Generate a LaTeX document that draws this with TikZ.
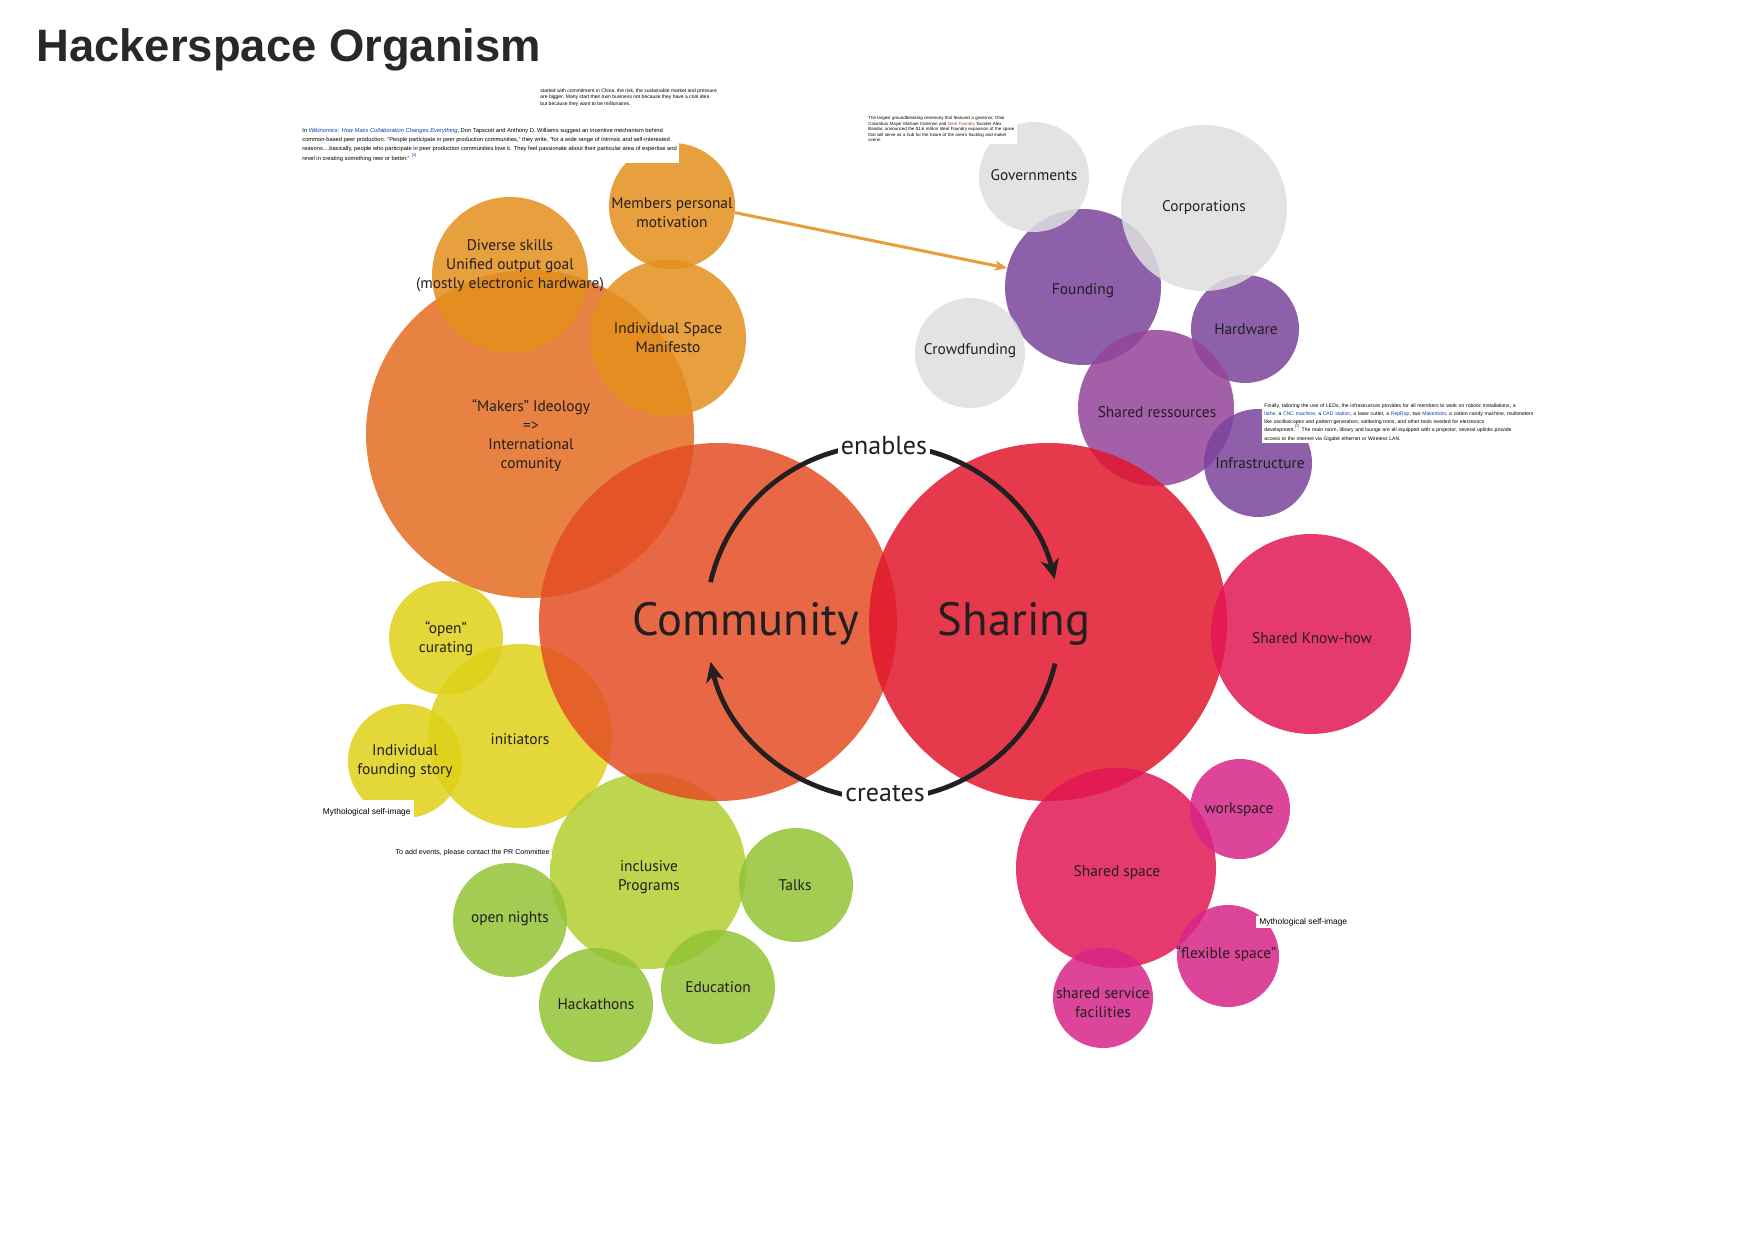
\documentclass[tikz,border=0pt]{standalone}
\usepackage{fontspec}
\setmainfont{PT Sans}
\newfontfamily\arialfont{Liberation Sans}
\usepackage{tikz}
\usetikzlibrary{arrows.meta}

\definecolor{ink}{RGB}{35,31,32}
\definecolor{titlec}{RGB}{40,40,40}
\definecolor{commc}{RGB}{229,77,37}
\definecolor{sharec}{RGB}{226,23,45}
\definecolor{makersc}{RGB}{228,109,33}
\definecolor{orangec}{RGB}{228,143,28}
\definecolor{motivc}{RGB}{232,158,60}
\definecolor{yellowc}{RGB}{224,209,23}
\definecolor{limec}{RGB}{179,207,47}
\definecolor{greenc}{RGB}{147,196,53}
\definecolor{grayc}{RGB}{223,223,224}
\definecolor{purplec}{RGB}{122,69,155}
\definecolor{mauvec}{RGB}{149,68,155}
\definecolor{pinkc}{RGB}{226,23,84}
\definecolor{magentac}{RGB}{216,37,137}
\definecolor{linkc}{RGB}{6,69,173}
\definecolor{linkred}{RGB}{204,51,51}

\begin{document}
\begin{tikzpicture}[x=0.5pt,y=-0.5pt,
    disc/.style={circle, inner sep=0pt, minimum size=#1pt, fill opacity=.85},
    lbl/.style={align=center, text=ink, font=\fontsize{7.7}{9.5}\selectfont},
    big/.style={text=ink, font=\fontsize{23.3}{27}\selectfont},
    verb/.style={fill=white, inner sep=1.5pt, text=ink, font=\fontsize{13}{15}\selectfont},
    note/.style={fill=white, inner sep=1pt, align=left, text=black},
    cyclearrow/.style={line width=2.4pt, ink, -{Stealth[length=10pt,width=9pt,inset=3pt]}},
    motivarrow/.style={line width=1.5pt, motivc, -{Stealth[length=6pt,width=5pt,inset=1.5pt]}}]
    \fill[white] (0,0) rectangle (1754,1240);
    \useasboundingbox (0,0) rectangle (1754,1240);
    \def\rbig{179}
    \def\rsmall{57}
    \node[anchor=base west, inner sep=0pt, text=titlec, font=\arialfont\bfseries\fontsize{22.7}{27}\selectfont] (title) at (36,62) {Hackerspace Organism};
    % community side
    \node[disc=164, fill=makersc] (makers) at (530,434) {};
    \node[disc=78, fill=orangec] (diverse) at (510,275) {};
    \node[disc=78, fill=orangec] (manifesto) at (668,338) {};
    \node[disc=63, fill=orangec] (members) at (672,206) {};
    \node[disc=\rsmall, fill=yellowc] (curating) at (446,638) {};
    \node[disc=92, fill=yellowc] (initiators) at (520,736) {};
    \node[disc=\rsmall, fill=yellowc] (story) at (405,761) {};
    \node[disc=98, fill=limec] (programs) at (648,871) {};
    \node[disc=\rsmall, fill=greenc] (talks) at (796,885) {};
    \node[disc=\rsmall, fill=greenc] (nights) at (510,920) {};
    \node[disc=\rsmall, fill=greenc] (hackathons) at (596,1005) {};
    \node[disc=\rsmall, fill=greenc] (education) at (718,987) {};
    % sharing side
    \node[disc=78, fill=purplec] (founding) at (1083,287) {};
    \node[disc=54, fill=purplec] (hardware) at (1245,329) {};
    \node[disc=78, fill=mauvec] (resources) at (1156,408) {};
    \node[disc=54, fill=purplec] (infra) at (1258,463) {};
    \node[disc=55, fill=grayc] (governments) at (1034,177) {};
    \node[disc=83, fill=grayc] (corporations) at (1204,208) {};
    \node[disc=55, fill=grayc] (crowdfunding) at (970,353) {};
    \node[disc=\rbig, fill=commc] (community) at (718,622) {};
    \node[disc=\rbig, fill=sharec] (sharing) at (1048,622) {};
    \node[disc=100, fill=pinkc] (knowhow) at (1311,634) {};
    \node[disc=100, fill=pinkc] (sharedspace) at (1116,868) {};
    \node[disc=50, fill=magentac] (workspace) at (1240,809) {};
    \node[disc=51, fill=magentac] (flexible) at (1228,956) {};
    \node[disc=50, fill=magentac] (service) at (1103,998) {};
    % pasted notes
    \node[note, anchor=north west, font=\arialfont\fontsize{2.5}{3.4}\selectfont] (noteA) at (538,86)
      {started with commitment in China, the risk, the sustainable market and pressure\\
       are bigger. Many start their own business not because they have a cool idea\\
       but because they want to be millionaires.};
    \node[note, anchor=north west, font=\arialfont\fontsize{2.88}{4.6}\selectfont] (noteB) at (300,126)
      {In \textcolor{linkc}{\itshape Wikinomics: How Mass Collaboration Changes Everything}, Don Tapscott and Anthony D. Williams suggest an incentive mechanism behind\\
       common-based peer production. “People participate in peer production communities,” they write, “for a wide range of intrinsic and self-interested\\
       reasons....basically, people who participate in peer production communities love it. They feel passionate about their particular area of expertise and\\
       revel in creating something new or better.” \textcolor{linkc}{\textsuperscript{[4]}}};
    \node[note, anchor=north west, text width=73.5pt, font=\arialfont\fontsize{2.2}{2.75}\selectfont] (noteC) at (866,114)
      {The largest groundbreaking ceremony that featured a governor, Ohio\\
       Columbus Mayor Michael Coleman and \textcolor{linkred}{Ideal Foundry} founder Alex\\
       Bandar, announced the \$1.6 million Ideal Foundry expansion of the space\\
       that will serve as a hub for the future of the area's hacking and maker\\
       scene.};
    \node[note, anchor=north west, text width=137pt, font=\arialfont\fontsize{2.55}{4.15}\selectfont] (noteD) at (1262,401)
      {Finally, tailoring the use of LEDs, the infrastructure provides for all members to work on robotic installations, a\\
       \textcolor{linkc}{lathe}, a \textcolor{linkc}{CNC machine}, a \textcolor{linkc}{CAD station}, a laser cutter, a \textcolor{linkc}{RepRap}, two \textcolor{linkc}{Makerbots}, a cotton candy machine, multimeters\\
       like oscilloscopes and pattern generators, soldering irons, and other tools needed for electronics\\
       development.\textsuperscript{[7]} The main room, library and lounge are all equipped with a projector, several uplinks provide\\
       access to the internet via Gigabit ethernet or Wireless LAN.};
    \node[note, anchor=east, inner xsep=1.5pt, minimum height=12pt, font=\arialfont\fontsize{4.2}{5}\selectfont] (mythA) at (414,812) {Mythological self-image};
    \node[note, anchor=west, inner xsep=1.5pt, minimum height=6pt, font=\arialfont\fontsize{4.2}{5}\selectfont] (mythB) at (1256,922) {Mythological self-image};
    \node[note, anchor=east, inner xsep=1pt, minimum height=6pt, font=\arialfont\fontsize{3.55}{4.5}\selectfont] (events) at (552,853) {To add events, please contact the PR Committee};
    % labels
    \node[lbl] (members-t) at (672,213) {Members personal\\motivation};
    \node[lbl] (diverse-t) at (510,266) {Diverse skills\\Unified output goal\\(mostly electronic hardware)};
    \node[lbl] (manifesto-t) at (668,338) {Individual Space\\Manifesto};
    \node[lbl] (makers-t) at (531,436) {“Makers” Ideology\\=>\\International\\comunity};
    \node[lbl] (curating-t) at (446,639) {“open”\\curating};
    \node[lbl] (initiators-t) at (520,739) {initiators};
    \node[lbl] (story-t) at (405,761) {Individual\\founding story};
    \node[lbl] (programs-t) at (649,877) {inclusive\\Programs};
    \node[lbl] (talks-t) at (795,885) {Talks};
    \node[lbl] (nights-t) at (510,919) {open nights};
    \node[lbl] (hackathons-t) at (596,1004) {Hackathons};
    \node[lbl] (education-t) at (718,987) {Education};
    \node[lbl] (governments-t) at (1034,175) {Governments};
    \node[lbl] (corporations-t) at (1204,208) {Corporations};
    \node[lbl] (founding-t) at (1083,291) {Founding};
    \node[lbl] (crowdfunding-t) at (970,351) {Crowdfunding};
    \node[lbl] (hardware-t) at (1246,329) {Hardware};
    \node[lbl] (resources-t) at (1157,412) {Shared ressources};
    \node[lbl] (infra-t) at (1260,463) {Infrastructure};
    \node[lbl] (knowhow-t) at (1312,638) {Shared Know-how};
    \node[lbl] (workspace-t) at (1239,810) {workspace};
    \node[lbl] (sharedspace-t) at (1117,873) {Shared space};
    \node[lbl] (flexible-t) at (1226,954) {“flexible space”};
    \node[lbl] (service-t) at (1103,1003) {shared service\\facilities};
    \node[big, anchor=base] (community-t) at (746,635) {Community};
    \node[big, anchor=base] (sharing-t) at (1014,635) {Sharing};
    % arrows
    \draw[motivarrow] (members.-6) -- (founding.166);
    \coordinate (cycle) at (883,622);
    \draw[cyclearrow] ([shift={(167:88.5pt)}]cycle) arc[start angle=167, end angle=14, radius=88.5pt];
    \draw[cyclearrow] ([shift={(-13.6:88.5pt)}]cycle) arc[start angle=-13.6, end angle=-167, radius=88.5pt];
    \node[verb] (enables) at (884,446) {enables};
    \node[verb] (creates) at (885,794) {creates};
\end{tikzpicture}
\end{document}
